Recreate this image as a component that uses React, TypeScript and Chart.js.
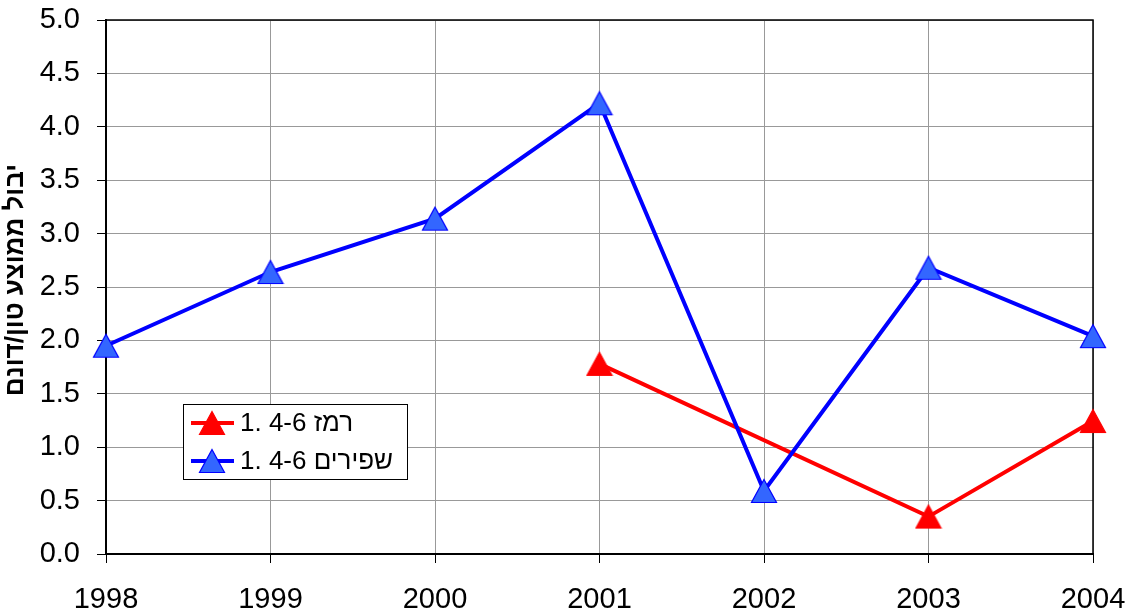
import React, { useEffect, useRef } from "react";
import { Chart, registerables } from "chart.js";

Chart.register(...registerables);

const FONT = "Arial, 'Liberation Sans', sans-serif";

const years = ["1998", "1999", "2000", "2001", "2002", "2003", "2004"];
const remezValues: (number | null)[] = [null, null, null, 1.78, null, 0.35, 1.245];
const shapirimValues: (number | null)[] = [1.95, 2.64, 3.14, 4.22, 0.59, 2.68, 2.04];
const seriesNames = ["1. 4-6 רמז", "1. 4-6 שפירים"];
const yTitle = "יבול ממוצע טון/דונם";
const yMin = 0;
const yMax = 5;
const yStep = 0.5;

function makeTriangle(fill: string, stroke: string): HTMLCanvasElement {
  const c = document.createElement("canvas");
  c.width = 28;
  c.height = 26;
  const g = c.getContext("2d")!;
  g.beginPath();
  g.moveTo(14, 1.5);
  g.lineTo(26.5, 24.5);
  g.lineTo(1.5, 24.5);
  g.closePath();
  g.fillStyle = fill;
  g.fill();
  g.lineWidth = 1.2;
  g.strokeStyle = stroke;
  g.stroke();
  return c;
}

export default function App() {
  const ref = useRef<HTMLCanvasElement>(null);

  useEffect(() => {
    document.body.style.margin = "0";
    const canvas = ref.current!;
    const redMarker = makeTriangle("#FF0000", "#FF0000");
    const blueMarker = makeTriangle("#3366FF", "#0000FF");
    const colors = ["#FF0000", "#0000FF"];
    const markers = [redMarker, blueMarker];

    const framePlugin = {
      id: "frame",
      beforeDatasetsDraw(chart: any) {
        const { ctx, chartArea } = chart;
        ctx.save();
        ctx.strokeStyle = "#000";
        ctx.lineWidth = 1.5;
        ctx.strokeRect(chartArea.left, chartArea.top, chartArea.right - chartArea.left, chartArea.bottom - chartArea.top);
        ctx.restore();
      },
    };

    const titlePlugin = {
      id: "yTitle",
      afterDraw(chart: any) {
        const { ctx } = chart;
        ctx.save();
        ctx.translate(23, 280);
        ctx.rotate(-Math.PI / 2);
        ctx.fillStyle = "#000";
        ctx.font = `bold 26px ${FONT}`;
        ctx.textAlign = "center";
        ctx.textBaseline = "alphabetic";
        ctx.fillText(yTitle, 0, 0);
        ctx.restore();
      },
    };

    const legendPlugin = {
      id: "customLegend",
      afterDraw(chart: any) {
        const { ctx } = chart;
        ctx.save();
        const bx = 183.5, by = 404.5, bw = 224, bh = 75;
        ctx.fillStyle = "#fff";
        ctx.fillRect(bx, by, bw, bh);
        ctx.strokeStyle = "#000";
        ctx.lineWidth = 1;
        ctx.strokeRect(bx, by, bw, bh);
        const rows = [423, 461];
        rows.forEach((y, i) => {
          ctx.strokeStyle = colors[i];
          ctx.lineWidth = 4;
          ctx.beginPath();
          ctx.moveTo(191, y);
          ctx.lineTo(234, y);
          ctx.stroke();
          const m = markers[i];
          ctx.drawImage(m, 212 - m.width / 2, y - m.height / 2);
          ctx.fillStyle = "#000";
          ctx.font = `26px ${FONT}`;
          ctx.textBaseline = "middle";
          ctx.textAlign = "left";
          ctx.fillText(seriesNames[i], 240, y + 1);
        });
        ctx.restore();
      },
    };

    const chart = new Chart(canvas, {
      type: "line",
      data: {
        labels: years,
        datasets: [
          {
            label: seriesNames[0],
            data: remezValues,
            borderColor: colors[0],
            backgroundColor: colors[0],
            borderWidth: 4,
            pointStyle: redMarker as any,
            pointRadius: 13,
            spanGaps: true,
            clip: false as any,
            order: 1,
            tension: 0,
          },
          {
            label: seriesNames[1],
            data: shapirimValues,
            borderColor: colors[1],
            backgroundColor: colors[1],
            borderWidth: 4,
            pointStyle: blueMarker as any,
            pointRadius: 13,
            spanGaps: true,
            clip: false as any,
            order: 0,
            tension: 0,
          },
        ],
      },
      options: {
        responsive: false,
        animation: false,
        devicePixelRatio: 1,
        layout: { padding: { top: 20, right: 45, left: 0, bottom: 0 } },
        plugins: {
          legend: { display: false },
          tooltip: { enabled: false },
        },
        scales: {
          x: {
            type: "category",
            offset: false,
            grid: { color: "#999", lineWidth: 1, tickLength: 9, tickColor: "#000" },
            border: { color: "#000", width: 2 },
            ticks: {
              color: "#000",
              font: { family: FONT, size: 29 },
              padding: 20,
              maxRotation: 0,
              autoSkip: false,
            },
            afterFit: (s: any) => {
              s.height = 62;
              s.paddingLeft = 0;
              s.paddingRight = 0;
            },
          },
          y: {
            min: yMin,
            max: yMax,
            ticks: {
              stepSize: yStep,
              color: "#000",
              font: { family: FONT, size: 29 },
              padding: 17,
              callback: (v: any) => Number(v).toFixed(1),
            },
            grid: { color: "#999", lineWidth: 1, tickLength: 9, tickColor: "#000" },
            border: { color: "#000", width: 2 },
            afterFit: (s: any) => {
              s.width = 106;
              s.paddingTop = 0;
              s.paddingBottom = 0;
            },
          },
        },
      },
      plugins: [framePlugin, legendPlugin, titlePlugin],
    });
    return () => chart.destroy();
  }, []);

  return (
    <div style={{ position: "absolute", left: 0, top: 0, width: 1138, height: 616 }}>
      <canvas ref={ref} width={1138} height={616} style={{ display: "block" }} />
    </div>
  );
}
